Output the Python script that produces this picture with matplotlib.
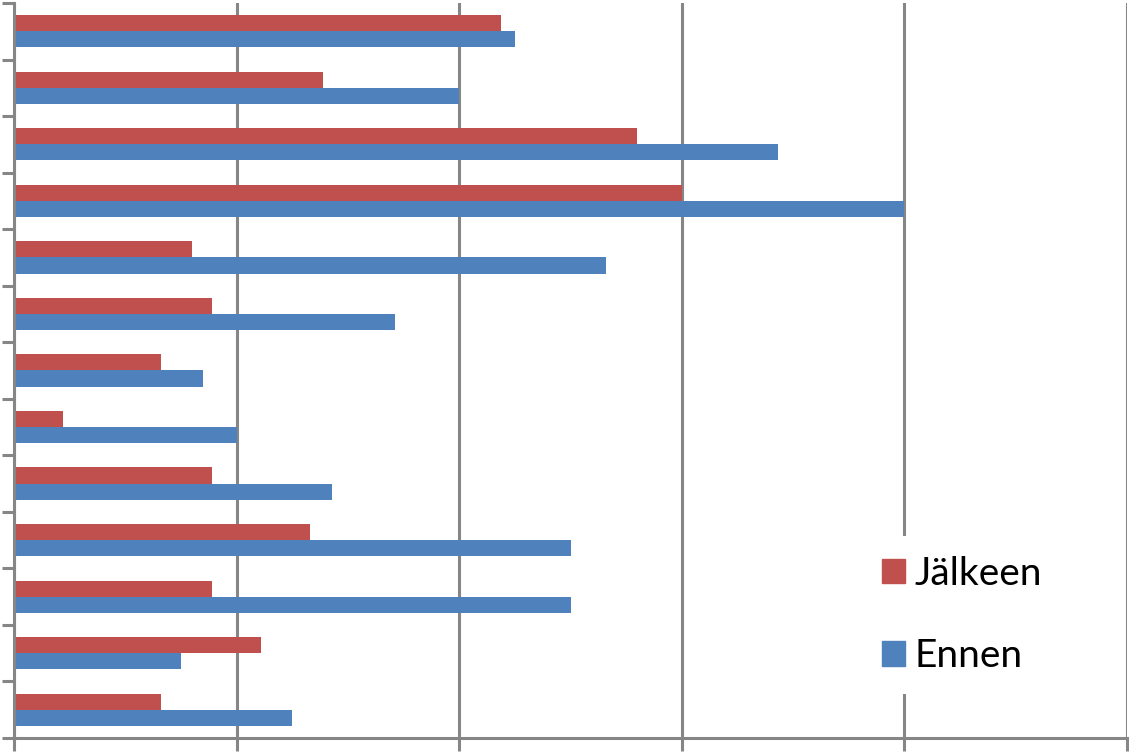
import matplotlib.pyplot as plt
from matplotlib.patches import Patch
import numpy as np

# Data (in grid units), top category first
categories = ['1', '2', '3', '4', '5', '6', '7', '8', '9', '10', '11', '12', '13']
jalkeen = [2.19, 1.39, 2.80, 3.00, 0.80, 0.89, 0.66, 0.22, 0.89, 1.33, 0.89, 1.11, 0.66]
ennen = [2.25, 2.00, 3.43, 4.00, 2.66, 1.71, 0.85, 1.00, 1.43, 2.50, 2.50, 0.75, 1.25]

red = '#C0504D'
blue = '#4F81BD'
grey = '#868686'

n = len(categories)
ind = np.arange(n)
h = 0.285

fig = plt.figure(figsize=(11.29, 7.54), dpi=100)
ax = fig.add_axes([14 / 1129, 1 - 738 / 754, (1127 - 14) / 1129, (738 - 3) / 754])

ax.barh(ind - h / 2, jalkeen, h, color=red, label='Jälkeen', zorder=3)
ax.barh(ind + h / 2, ennen, h, color=blue, label='Ennen', zorder=3)

ax.set_ylim(n - 0.5, -0.5)
ax.set_xlim(0, 5)
ax.set_yticks(np.arange(n + 1) - 0.5, labels=[])
ax.set_xticks(np.arange(6), labels=[])
ax.tick_params(length=9, width=2.2, color=grey, direction='out')
ax.grid(axis='x', color=grey, linewidth=2.2, zorder=0)
for side in ['top', 'right']:
    ax.spines[side].set_visible(False)
for side in ['left', 'bottom']:
    ax.spines[side].set_color(grey)
    ax.spines[side].set_linewidth(2.2)
    ax.spines[side].set_zorder(4)

handles = [Patch(color=red, label='Jälkeen'), Patch(color=blue, label='Ennen')]
leg = ax.legend(handles=handles, loc='center left',
                bbox_to_anchor=(843 / 1129, 1 - 615 / 754),
                bbox_transform=fig.transFigure,
                prop={'family': 'Lato', 'size': 28},
                handlelength=0.6, handleheight=0.6, handletextpad=0.25,
                labelspacing=1.2, borderpad=0.5, fancybox=False,
                frameon=True, edgecolor='none', facecolor='white', framealpha=1)
leg.set_zorder(5)

fig.savefig('out.png', dpi=100)
